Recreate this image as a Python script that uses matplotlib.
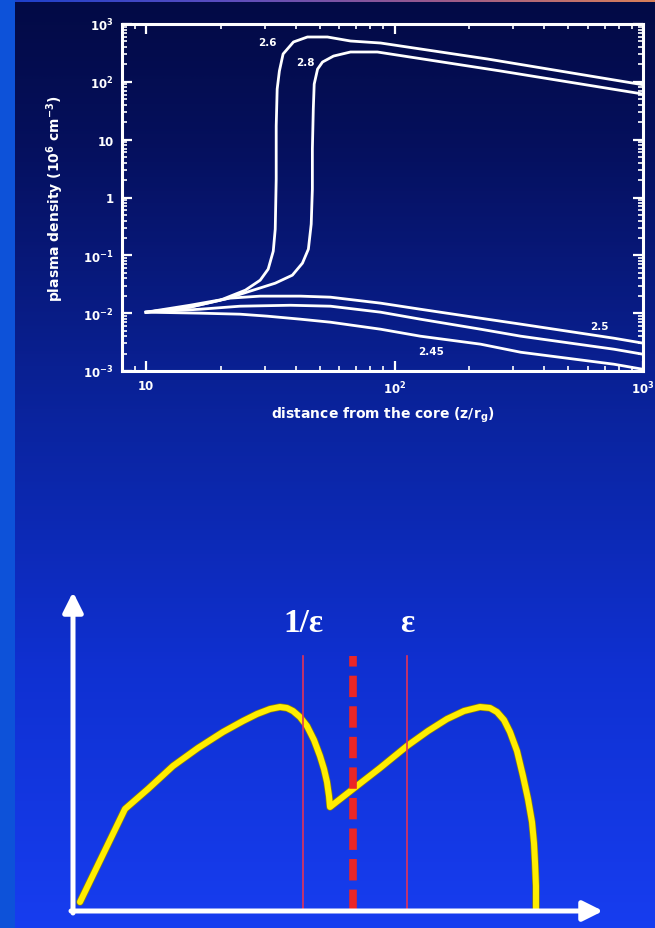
import numpy as np
import matplotlib
matplotlib.use("Agg")
import matplotlib.pyplot as plt
import matplotlib.patheffects as pe
from matplotlib.colors import LinearSegmentedColormap
from matplotlib.ticker import FixedLocator, FixedFormatter, LogLocator, NullFormatter

plt.rcParams['font.family'] = ['DejaVu Sans']
plt.rcParams['mathtext.fontset'] = 'dejavusans'
plt.rcParams['mathtext.default'] = 'bf'

# ---------------- data: top panel (plasma density vs distance) ----------------
curve_a_x = [10, 15.0, 19.9, 25.1, 28.8, 31.0, 32.5, 33.1, 33.4, 33.4, 33.7, 34.4, 35.6, 39.2, 44.6, 53.7, 66.5, 87.9, 237, 1000]
curve_a_y = [0.0104, 0.0127, 0.0168, 0.025, 0.0372, 0.0577, 0.118, 0.284, 2.08, 17.2, 75, 154, 303, 489, 596, 596, 508, 469, 248, 89]

curve_b_x = [10, 15.0, 20.8, 26.2, 33.1, 38.8, 42.6, 45.0, 46.2, 46.7, 46.7, 47.1, 47.5, 49.0, 51.3, 56.8, 66.5, 85.3, 267, 1000]
curve_b_y = [0.0104, 0.0127, 0.0175, 0.024, 0.033, 0.0454, 0.0733, 0.128, 0.347, 1.40, 6.9, 33.8, 91.6, 166, 220, 279, 328, 328, 154, 61.5]

curve_c_x = [10, 15.0, 21.8, 28.8, 41.8, 55.2, 87.9, 127, 222, 322, 764, 1000]
curve_c_y = [0.0104, 0.0137, 0.0182, 0.0197, 0.0197, 0.0189, 0.0149, 0.0117, 0.00818, 0.00646, 0.00369, 0.00303]

curve_d_x = [10, 16.5, 23.9, 38.1, 55.2, 87.9, 127, 222, 322, 764, 1000]
curve_d_y = [0.0104, 0.0117, 0.0132, 0.0137, 0.0132, 0.0104, 0.00787, 0.00528, 0.0040, 0.00238, 0.00195]

curve_e_x = [10, 16.5, 23.9, 30.8, 41.8, 55.2, 87.9, 127, 222, 322, 764, 1000]
curve_e_y = [0.0104, 0.0100, 0.0096, 0.00887, 0.00787, 0.00698, 0.00528, 0.0040, 0.00291, 0.00211, 0.00131, 0.00107]

curve_labels = ["2.6", "2.8", "2.5", "2.45"]
curve_label_x = [30.8, 43.7, 665, 140]
curve_label_y = [489, 220, 0.00596, 0.0022]

y_ticks = [1e-3, 1e-2, 1e-1, 1, 10, 1e2, 1e3]
y_tick_labels = [r'$10^{-3}$', r'$10^{-2}$', r'$10^{-1}$', '1', '10', r'$10^{2}$', r'$10^{3}$']
x_ticks = [10, 100, 1000]
x_tick_labels = ['10', r'$10^{2}$', r'$10^{3}$']

# ---------------- data: bottom panel (schematic spectrum) ----------------
spec_u = [7, 52, 75, 100, 125, 150, 170, 184, 197, 207, 214, 220, 227, 234, 241, 247, 251, 254, 256, 257,
          280, 307, 334, 355, 374, 391, 407, 417, 424, 431, 437, 444, 450, 455, 459, 461, 462, 463, 463]
spec_v = [9, 102, 122, 145, 163, 179, 190, 197, 202, 204, 203, 200, 194, 185, 171, 155, 142, 129, 115, 104,
          122, 143, 165, 180, 192, 200, 204, 203, 199, 191, 179, 160, 135, 112, 89, 68, 49, 25, 2]
thin_line_u = [230, 334]
dashed_line_u = 280
marker_top_v = 255
marker_texts = ["1/\u03b5", "\u03b5"]

# ---------------- figure ----------------
W, H = 655, 929
fig = plt.figure(figsize=(W / 100, H / 100), dpi=100)

# background gradient
bg = fig.add_axes([0, 0, 1, 1], zorder=-10)
bg.set_axis_off()
cmap = LinearSegmentedColormap.from_list(
    "slide",
    [(0.0, (0.01, 0.04, 0.27)), (0.15, (0.02, 0.06, 0.36)), (0.45, (0.04, 0.14, 0.62)),
     (0.72, (0.06, 0.19, 0.82)), (1.0, (0.09, 0.24, 0.94))])
grad = np.linspace(0, 1, 512)[:, None] * np.ones((1, 8))
bg.imshow(grad, cmap=cmap, aspect='auto', extent=[0, W, H, 0])
bg.add_patch(plt.Rectangle((0, 0), 15, H, color=(0.05, 0.32, 0.85), lw=0))
top_strip = np.linspace(0, 1, 256)[None, :]
strip_cmap = LinearSegmentedColormap.from_list("strip", [(0.1, 0.25, 0.8), (0.35, 0.3, 0.75), (0.6, 0.35, 0.55), (0.85, 0.5, 0.35)])
bg.imshow(top_strip, cmap=strip_cmap, aspect='auto', extent=[0, W, 3, 0])
bg.set_xlim(0, W)
bg.set_ylim(H, 0)

# top axes
ax = fig.add_axes([122 / W, (H - 372) / H, (643 - 122) / W, (372 - 25) / H])
ax.set_facecolor('none')
ax.set_xscale('log')
ax.set_yscale('log')
ax.set_xlim(8.0, 1000)
ax.set_ylim(1e-3, 1e3)
for xs, ys in [(curve_a_x, curve_a_y), (curve_b_x, curve_b_y), (curve_c_x, curve_c_y),
               (curve_d_x, curve_d_y), (curve_e_x, curve_e_y)]:
    ax.plot(xs, ys, color='white', lw=2.0, solid_joinstyle='round')
for t, lx, ly in zip(curve_labels, curve_label_x, curve_label_y):
    ax.text(lx, ly, t, color='white', fontsize=7.5, fontweight='bold', ha='center', va='center')

for s in ax.spines.values():
    s.set_color('white')
    s.set_linewidth(2.2)
ax.yaxis.set_major_locator(FixedLocator(y_ticks))
ax.yaxis.set_major_formatter(FixedFormatter(y_tick_labels))
ax.xaxis.set_major_locator(FixedLocator(x_ticks))
ax.xaxis.set_major_formatter(FixedFormatter(x_tick_labels))
ax.xaxis.set_minor_locator(LogLocator(base=10, subs=np.arange(2, 10)))
ax.yaxis.set_minor_locator(LogLocator(base=10, subs=np.arange(2, 10)))
ax.xaxis.set_minor_formatter(NullFormatter())
ax.yaxis.set_minor_formatter(NullFormatter())
ax.tick_params(which='both', direction='in', colors='white', top=True, right=True, labelsize=8.5, pad=6)
ax.tick_params(which='major', length=7, width=1.6)
ax.tick_params(which='minor', length=3.5, width=1.2)
for lab in ax.get_xticklabels() + ax.get_yticklabels():
    lab.set_fontweight('bold')
ax.set_ylabel(r'plasma density (10$^6$ cm$^{-3}$)', color='white', fontsize=10, fontweight='bold', labelpad=12)
ax.set_xlabel(r'distance from the core (z/r$_g$)', color='white', fontsize=10, fontweight='bold', labelpad=6)

# bottom schematic axes
bx = fig.add_axes([73 / W, (H - 912) / H, 540 / W, 327 / H])
bx.set_axis_off()
bx.set_xlim(0, 540)
bx.set_ylim(0, 327)
bx.plot(spec_u, spec_v, color=(1.0, 0.93, 0.0), lw=4.3, solid_joinstyle='round', solid_capstyle='round',
        zorder=3, clip_on=False,
        path_effects=[pe.Stroke(linewidth=5.3, foreground=(0.55, 0.5, 0.05)), pe.Normal()])
for u in thin_line_u:
    bx.plot([u, u], [0, marker_top_v], color=(0.88, 0.2, 0.35), lw=1.2, zorder=4, clip_on=False)
bx.plot([dashed_line_u, dashed_line_u], [0, marker_top_v], color=(0.92, 0.15, 0.15), lw=5.5,
        linestyle=(0, (2.8, 1.2)), zorder=4, clip_on=False)
for t, u in zip(marker_texts, thin_line_u):
    bx.text(u, 289, t, color='white', fontsize=24, fontweight='bold', family=['Liberation Serif', 'DejaVu Serif'],
            ha='center', va='center')
# arrow axes
bx.annotate('', xy=(530, 0), xytext=(-2, 0),
            arrowprops=dict(arrowstyle='-|>,head_length=1.2,head_width=0.6', color='white', lw=3.6,
                            shrinkA=0, shrinkB=0), annotation_clip=False, zorder=5)
bx.annotate('', xy=(0, 319), xytext=(0, -2),
            arrowprops=dict(arrowstyle='-|>,head_length=1.2,head_width=0.6', color='white', lw=3.6,
                            shrinkA=0, shrinkB=0), annotation_clip=False, zorder=5)

fig.savefig('out.png', dpi=100)
